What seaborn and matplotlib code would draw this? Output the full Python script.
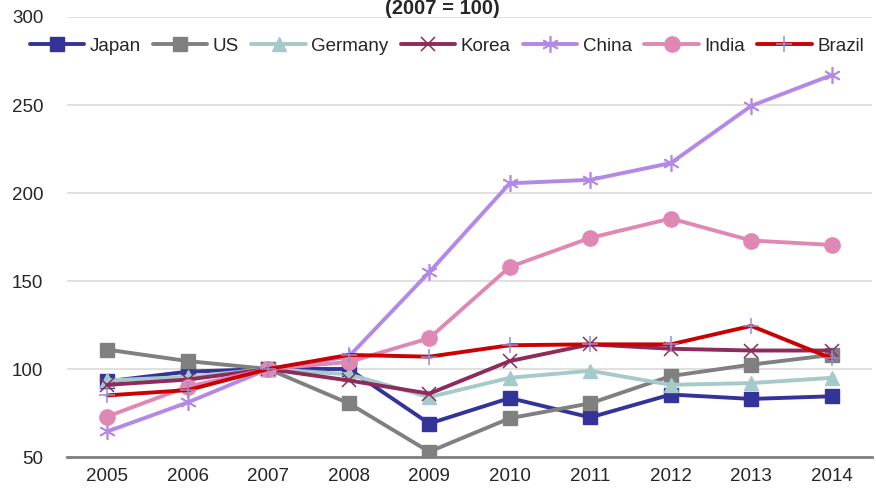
import matplotlib
matplotlib.use("Agg")
import matplotlib.pyplot as plt
import seaborn as sns
import numpy as np
import pandas as pd

years = ["2005", "2006", "2007", "2008", "2009", "2010", "2011", "2012", "2013", "2014"]

japan = [93, 98.5, 100, 100, 69, 83.5, 72.5, 85.5, 83, 84.5]
us = [111, 104.5, 100, 80.5, 53, 72, 80.5, 96, 102.5, 108]
germany = [93.5, 95.5, 100, 97, 84, 95, 99, 91, 92, 95]
korea = [91, 94, 100, 93.5, 86, 104.5, 114, 111.5, 110.5, 110.5]
china = [64.5, 81, 100, 107, 155, 205.5, 207.5, 217, 249.5, 267]
india = [73, 90, 100, 104, 117.5, 158, 174.5, 185.5, 173, 170.5]
brazil = [85, 88, 100, 108, 107, 113.5, 114, 114, 124.5, 106]

series = [
    ("Japan", japan, "#333399", "s", "#333399", 10, 1.0),
    ("US", us, "#808080", "s", "#808080", 10, 1.0),
    ("Germany", germany, "#A6CACA", "^", "#A6CACA", 10, 1.0),
    ("Korea", korea, "#8E2A5C", "x", "#8E2A5C", 10, 1.1),
    ("China", china, "#B388E6", (6, 2, 0), "#B388E6", 12, 1.2),
    ("India", india, "#E088B4", "o", "#E088B4", 11, 1.0),
    ("Brazil", brazil, "#CC0000", "+", "#8F8FD6", 12, 1.1),
]

sns.set_style("white")
plt.rcParams["font.family"] = ["Liberation Sans", "DejaVu Sans"]

fig = plt.figure(figsize=(8.76, 4.90), dpi=100)
ax = fig.add_axes([67 / 876, 1 - 457 / 490, 805 / 876, 440 / 490])

x = np.arange(len(years))
handles = []
for name, vals, color, marker, mcolor, msize, mew in series:
    df = pd.DataFrame({"x": x, "y": vals})
    sns.lineplot(data=df, x="x", y="y", ax=ax, color=color, lw=2.8,
                 marker=marker, markersize=msize, markerfacecolor=mcolor,
                 markeredgecolor=mcolor, markeredgewidth=mew, label=name,
                 legend=False)
    handles.append(ax.lines[-1])

ax.set_xlim(-0.5, len(years) - 0.5)
ax.set_ylim(50, 300)
ax.set_yticks([50, 100, 150, 200, 250, 300])
ax.yaxis.grid(True, color="#DADADA", lw=1.2)
ax.set_axisbelow(True)
ax.set_xticks(x)
ax.set_xticklabels(years)
ax.set_xticks(np.arange(-0.5, len(years)), minor=True)
ax.tick_params(axis="x", which="major", length=0, pad=8, labelsize=13.5)
ax.tick_params(axis="x", which="minor", length=6, width=1.5, color="#7F7F7F", direction="out")
ax.tick_params(axis="y", length=0, pad=17, labelsize=13.5)
ax.set_xlabel("")
ax.set_ylabel("")
for s in ["left", "right", "top"]:
    ax.spines[s].set_visible(False)
ax.spines["bottom"].set_color("#7F7F7F")
ax.spines["bottom"].set_linewidth(2)

fig.text(0.505, 1 - 8 / 490, "(2007 = 100)", ha="center", va="center",
         fontsize=14.5, fontweight="bold")

fig.legend(handles=handles, labels=[s[0] for s in series], ncol=7,
           loc="center", bbox_to_anchor=(0.51, 1 - 46 / 490), frameon=False,
           fontsize=13.5, handlelength=2.9, handletextpad=0.3,
           columnspacing=0.65)

fig.savefig("out.png", dpi=100)
